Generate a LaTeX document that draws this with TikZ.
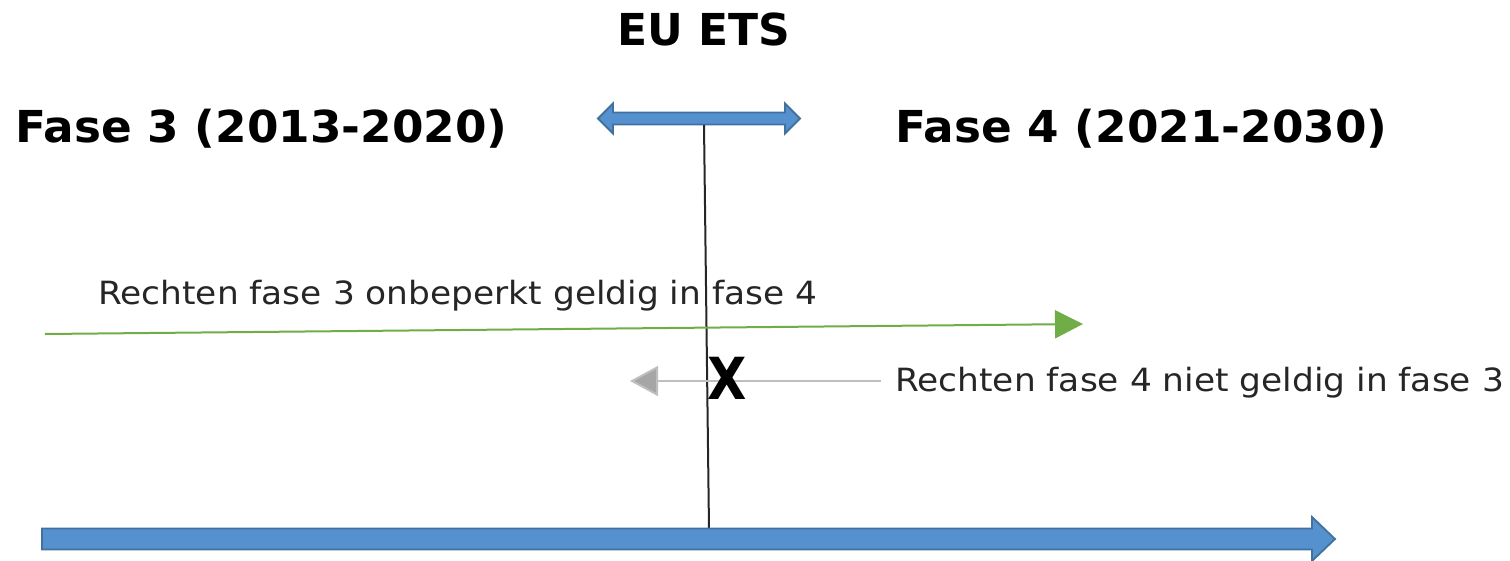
\documentclass[tikz,border=0pt]{standalone}
\usepackage{fontspec}
\setmainfont{DejaVu Sans}
\newfontfamily\regfont[FakeStretch=1.075]{DejaVu Sans}
\newfontfamily\titlefont[FakeStretch=1.03]{DejaVu Sans Bold}
\usetikzlibrary{arrows.meta}
\definecolor{bluefill}{HTML}{5591CE}
\definecolor{blueedge}{HTML}{41719C}
\definecolor{greenline}{HTML}{70AD47}
\definecolor{grayhead}{HTML}{A6A6A6}
\definecolor{grayline}{HTML}{BFBFBF}
\tikzset{
  titletext/.style={font=\titlefont\fontsize{44}{48}\selectfont, inner sep=0pt},
  labeltext/.style={font=\regfont\fontsize{32}{36}\selectfont, inner sep=0pt, text=black!85},
  bigarrow/.style={fill=bluefill, draw=blueedge, line width=1.8pt, line join=miter},
}
\begin{document}
\begin{tikzpicture}[x=1pt,y=-1pt]
\useasboundingbox (0,0) rectangle (1510,560);
% texts
\node[font=\fontsize{44}{48}\selectfont\bfseries, inner sep=0pt, anchor=base] (eu) at (704,45) {EU ETS};
\node[titletext, anchor=base west] (f3) at (15,142) {Fase 3 (2013-2020)};
\node[titletext, anchor=base west] (f4) at (895,142) {Fase 4 (2021-2030)};
\node[labeltext, anchor=base west] (g) at (98,304) {Rechten fase 3 onbeperkt geldig in fase 4};
\node[labeltext, anchor=base west] (r) at (895,391) {Rechten fase 4 niet geldig in fase 3};
% coordinates
\coordinate (vtop) at (704,125);
\coordinate (vbot) at (709,529);
\coordinate (gs) at (45,334);
\coordinate (ge) at (1083,324);
\coordinate (gys) at (881,381);
\coordinate (gye) at (630,381);
% top double arrow
\draw[bigarrow] (598,118.5) -- (613,103.5) -- (613,112.5) -- (785,112.5) -- (785,103.5) -- (800,118.5)
  -- (785,133.5) -- (785,124.5) -- (613,124.5) -- (613,133.5) -- cycle;
% vertical line
\draw[line width=2pt, black!85] (vtop) -- (vbot);
% green arrow
\draw[greenline, line width=2pt, -{Triangle[length=28pt,width=28pt]}] (gs) -- (ge);
% gray arrow
\draw[grayline, line width=2pt] (gys) -- (658,381);
\draw[grayline, line width=2pt, -{Triangle[length=28pt,width=30pt,fill=grayhead]}] (660,381) -- (gye);
% cross
\node[font=\fontsize{58}{60}\selectfont\bfseries, inner sep=0pt, xscale=0.88] (x) at (727,378) {X};
% bottom arrow
\draw[bigarrow] (42,528.5) -- (1312,528.5) -- (1312,517) -- (1335,539) -- (1312,561) -- (1312,549.5) -- (42,549.5) -- cycle;
\end{tikzpicture}
\end{document}
